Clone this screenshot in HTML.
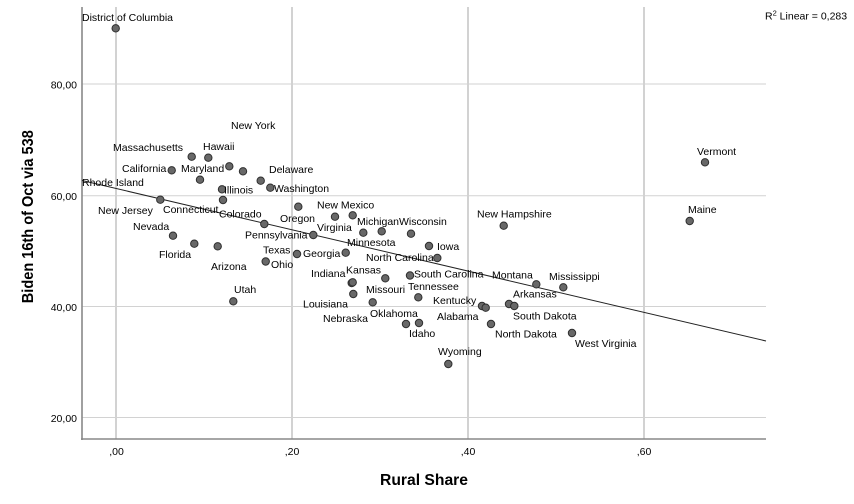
<!DOCTYPE html>
<html><head><meta charset="utf-8"><style>
html,body{margin:0;padding:0;background:#fff;}
svg{display:block;}
text{font-family:"Liberation Sans",Arial,sans-serif;fill:#000;}
.l{font-size:10.5px;}
.t{font-size:10.5px;fill:#222;}
</style></head><body>
<svg width="854" height="504" viewBox="0 0 854 504" xmlns="http://www.w3.org/2000/svg">
<rect width="854" height="504" fill="#fff"/>
<!-- gridlines -->
<g stroke="#d2d2d2" stroke-width="1">
<line x1="82" y1="84" x2="766" y2="84"/>
<line x1="82" y1="195.7" x2="766" y2="195.7"/>
<line x1="82" y1="306.5" x2="766" y2="306.5"/>
<line x1="82" y1="417.5" x2="766" y2="417.5"/>
</g>
<g stroke="#d2d2d2" stroke-width="2">
<line x1="116" y1="7" x2="116" y2="439"/>
<line x1="292" y1="7" x2="292" y2="439"/>
<line x1="468" y1="7" x2="468" y2="439"/>
<line x1="644" y1="7" x2="644" y2="439"/>
</g>
<!-- axes -->
<line x1="82" y1="7" x2="82" y2="440" stroke="#888" stroke-width="1.6"/>
<line x1="81" y1="439" x2="766" y2="439" stroke="#888" stroke-width="1.6"/>
<!-- tick labels -->
<g class="t" text-anchor="end">
<text x="77" y="88.5">80,00</text>
<text x="77" y="200">60,00</text>
<text x="77" y="311">40,00</text>
<text x="77" y="422">20,00</text>
</g>
<g class="t" text-anchor="middle">
<text x="116.5" y="455">,00</text>
<text x="292" y="455">,20</text>
<text x="468" y="455">,40</text>
<text x="644" y="455">,60</text>
</g>
<!-- axis titles -->
<text x="424" y="485" text-anchor="middle" font-size="16" font-weight="bold" textLength="88" lengthAdjust="spacingAndGlyphs">Rural Share</text>
<text transform="translate(33,216.7) rotate(-90)" text-anchor="middle" font-size="16" font-weight="bold" textLength="173" lengthAdjust="spacingAndGlyphs">Biden 16th of Oct via 538</text>
<!-- R2 -->
<text x="765" y="19.5" class="l">R<tspan font-size="7.5" dy="-4">2</tspan><tspan dy="4"> Linear = 0,283</tspan></text>
<!-- regression line -->
<line x1="82" y1="180.5" x2="766" y2="341" stroke="#222" stroke-width="1"/>
<!-- points -->
<g fill="#686868" stroke="#2e2e2e" stroke-width="1">
<circle cx="115.7" cy="28.3" r="3.7"/>
<circle cx="191.7" cy="156.7" r="3.7"/>
<circle cx="208.3" cy="157.7" r="3.7"/>
<circle cx="171.7" cy="170.3" r="3.7"/>
<circle cx="229.3" cy="166.3" r="3.7"/>
<circle cx="243" cy="171.3" r="3.7"/>
<circle cx="260.7" cy="180.7" r="3.7"/>
<circle cx="270.3" cy="187.7" r="3.7"/>
<circle cx="200" cy="179.7" r="3.7"/>
<circle cx="222" cy="189.3" r="3.7"/>
<circle cx="223" cy="200" r="3.7"/>
<circle cx="160.3" cy="199.7" r="3.7"/>
<circle cx="298.3" cy="206.7" r="3.7"/>
<circle cx="264.3" cy="224" r="3.7"/>
<circle cx="173" cy="235.7" r="3.7"/>
<circle cx="194.3" cy="243.7" r="3.7"/>
<circle cx="217.7" cy="246.3" r="3.7"/>
<circle cx="297" cy="254" r="3.7"/>
<circle cx="265.7" cy="261.5" r="3.7"/>
<circle cx="233.3" cy="301.3" r="3.7"/>
<circle cx="335" cy="216.7" r="3.7"/>
<circle cx="352.7" cy="215.3" r="3.7"/>
<circle cx="313.3" cy="235" r="3.7"/>
<circle cx="363.3" cy="232.7" r="3.7"/>
<circle cx="381.7" cy="231.3" r="3.7"/>
<circle cx="411" cy="233.7" r="3.7"/>
<circle cx="429" cy="246" r="3.7"/>
<circle cx="345.7" cy="252.7" r="3.7"/>
<circle cx="437.3" cy="258" r="3.7"/>
<circle cx="385.3" cy="278.3" r="3.7"/>
<circle cx="410" cy="275.5" r="3.7"/>
<circle cx="351.7" cy="283" r="3.7"/>
<circle cx="352.7" cy="282.3" r="3.7"/>
<circle cx="353.3" cy="294" r="3.7"/>
<circle cx="418.3" cy="297.3" r="3.7"/>
<circle cx="372.7" cy="302.3" r="3.7"/>
<circle cx="406" cy="324" r="3.7"/>
<circle cx="419" cy="323" r="3.7"/>
<circle cx="503.7" cy="225.7" r="3.7"/>
<circle cx="536.3" cy="284.3" r="3.7"/>
<circle cx="563.3" cy="287.3" r="3.7"/>
<circle cx="482" cy="306" r="3.7"/>
<circle cx="485.7" cy="307.7" r="3.7"/>
<circle cx="509" cy="304" r="3.7"/>
<circle cx="514.3" cy="306" r="3.7"/>
<circle cx="491" cy="324" r="3.7"/>
<circle cx="572" cy="333" r="3.7"/>
<circle cx="448.3" cy="364" r="3.7"/>
<circle cx="705" cy="162.3" r="3.7"/>
<circle cx="689.7" cy="221" r="3.7"/>
</g>
<!-- labels -->
<g class="l">
<text x="82" y="21">District of Columbia</text>
<text x="231" y="129">New York</text>
<text x="113" y="151">Massachusetts</text>
<text x="203" y="150">Hawaii</text>
<text x="122" y="172">California</text>
<text x="181" y="172">Maryland</text>
<text x="269" y="173">Delaware</text>
<text x="82" y="186">Rhode Island</text>
<text x="224" y="193.5">Illinois</text>
<text x="274" y="192">Washington</text>
<text x="98" y="214">New Jersey</text>
<text x="163" y="213">Connecticut</text>
<text x="219" y="217.5">Colorado</text>
<text x="317" y="208.5">New Mexico</text>
<text x="133" y="230">Nevada</text>
<text x="280" y="222">Oregon</text>
<text x="317" y="231">Virginia</text>
<text x="357" y="225">Michigan</text>
<text x="399" y="225">Wisconsin</text>
<text x="245" y="238.5">Pennsylvania</text>
<text x="347" y="246">Minnesota</text>
<text x="437" y="250">Iowa</text>
<text x="263" y="253.5">Texas</text>
<text x="303" y="257">Georgia</text>
<text x="366" y="261">North Carolina</text>
<text x="271" y="268">Ohio</text>
<text x="159" y="258">Florida</text>
<text x="211" y="270">Arizona</text>
<text x="311" y="277">Indiana</text>
<text x="346" y="273.5">Kansas</text>
<text x="414" y="277.5">South Carolina</text>
<text x="492" y="278.5">Montana</text>
<text x="549" y="280">Mississippi</text>
<text x="366" y="293">Missouri</text>
<text x="408" y="290">Tennessee</text>
<text x="234" y="293">Utah</text>
<text x="433" y="304">Kentucky</text>
<text x="513" y="297.5">Arkansas</text>
<text x="303" y="307.5">Louisiana</text>
<text x="370" y="317">Oklahoma</text>
<text x="323" y="322">Nebraska</text>
<text x="437" y="320">Alabama</text>
<text x="513" y="319.5">South Dakota</text>
<text x="409" y="337">Idaho</text>
<text x="495" y="337.5">North Dakota</text>
<text x="575" y="347">West Virginia</text>
<text x="438" y="355">Wyoming</text>
<text x="477" y="217.5">New Hampshire</text>
<text x="697" y="155">Vermont</text>
<text x="688" y="213">Maine</text>
</g>
</svg>
</body></html>
